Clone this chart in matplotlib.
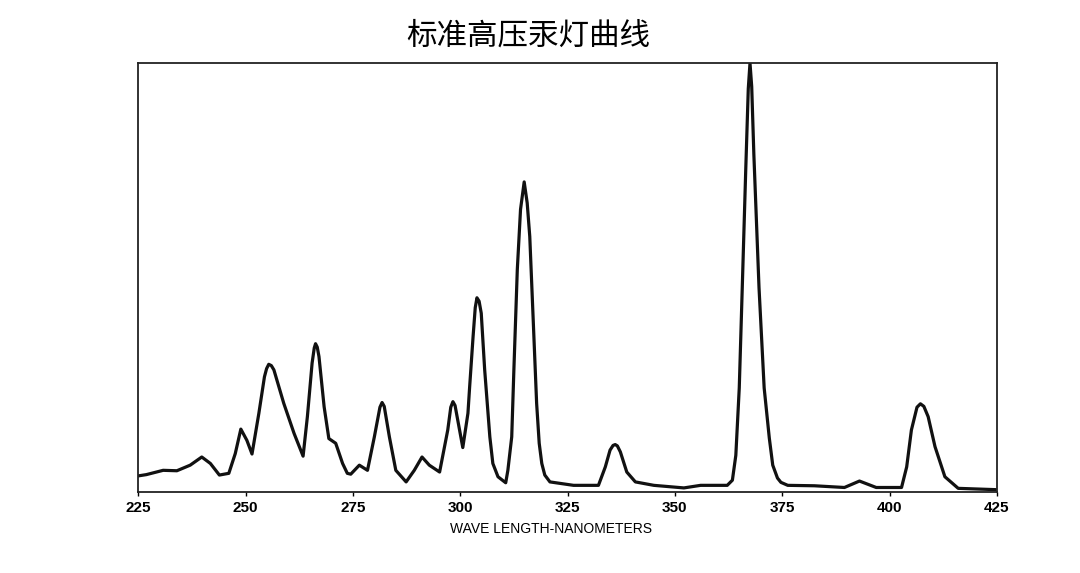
import numpy as np
import matplotlib
matplotlib.use("Agg")
import matplotlib.pyplot as plt

plt.rcParams['font.family'] = ['Noto Sans CJK SC', 'DejaVu Sans']

# values (wavelength nm, relative intensity %)
wavelength = [225.0, 226.9, 230.8, 234.0, 237.1, 239.8, 241.8, 243.9, 246.1, 247.6,
              248.9, 250.3, 251.5, 253.1, 254.4, 254.9, 255.4, 256.0, 256.6, 258.9,
              261.3, 263.4, 264.4, 265.5, 266.0, 266.3, 266.7, 267.1, 268.3, 269.4,
              271.0, 272.6, 273.7, 274.5, 276.5, 278.4, 280.0, 281.3, 281.8, 282.3,
              283.5, 285.0, 287.4, 289.3, 291.1, 292.8, 295.2, 297.1, 297.8, 298.3,
              298.8, 299.7, 300.6, 301.8, 302.2, 303.0, 303.5, 303.9, 304.4, 304.9,
              305.7, 306.9, 307.6, 308.8, 310.6, 311.1, 312.0, 312.5, 313.3, 314.05,
              314.9, 315.6, 316.2, 317.0, 317.8, 318.4, 319.0, 319.7, 320.9, 326.4,
              332.2, 333.8, 334.9, 335.6, 336.1, 336.6, 337.3, 338.8, 340.8, 345.1,
              352.1, 356.0, 362.2, 363.4, 364.2, 365.0, 365.7, 366.5, 367.1, 367.5,
              367.9, 368.4, 369.6, 370.8, 372.0, 372.8, 373.9, 374.7, 376.3, 382.5,
              389.5, 393.0, 396.9, 402.8, 404.0, 405.1, 406.4, 407.2, 408.0, 409.0,
              410.6, 412.9, 416.0, 424.6]
intensity = [3.8, 4.1, 5.1, 5.0, 6.3, 8.2, 6.7, 4.0, 4.4, 9.0,
             14.7, 12.1, 8.9, 18.4, 26.9, 28.8, 29.8, 29.5, 28.5, 20.7,
             13.7, 8.4, 17.6, 30.1, 33.6, 34.6, 33.8, 31.6, 19.9, 12.5,
             11.4, 6.7, 4.4, 4.2, 6.3, 5.1, 12.9, 19.8, 20.9, 20.0,
             12.9, 5.1, 2.4, 5.1, 8.2, 6.3, 4.7, 14.5, 19.8, 21.1,
             20.2, 15.3, 10.4, 18.4, 24.6, 36.3, 43.0, 45.3, 44.5, 41.7,
             28.5, 12.9, 6.7, 3.6, 2.2, 5.1, 12.9, 28.5, 51.9, 65.9,
             72.3, 67.4, 59.6, 40.2, 20.7, 11.4, 6.7, 4.0, 2.4, 1.6,
             1.6, 5.9, 9.8, 10.9, 11.1, 10.8, 9.4, 4.7, 2.4, 1.6,
             1.0, 1.6, 1.6, 2.8, 8.6, 24.3, 47.7, 74.8, 94.0, 100.0,
             94.5, 78.7, 47.7, 24.3, 12.6, 6.3, 3.3, 2.3, 1.6, 1.5,
             1.1, 2.6, 1.1, 1.1, 5.9, 14.5, 19.8, 20.6, 20.0, 17.6,
             10.6, 3.6, 0.9, 0.6]
xticks = [225, 250, 275, 300, 325, 350, 375, 400, 425]

fig = plt.figure(figsize=(10.8, 5.73), dpi=100)
ax = fig.add_axes([0.128, 0.141, 0.795, 0.749])
ax.plot(wavelength, intensity, color='#111111', lw=2.3, solid_joinstyle='round')

ax.set_xlim(225, 425)
ax.set_ylim(0, 100)
ax.set_xticks(xticks)
ax.set_xticklabels([str(t) for t in xticks], fontfamily='Liberation Sans',
                   fontweight='bold', fontsize=11)
ax.set_yticks([])
ax.tick_params(axis='x', direction='out', length=3, width=1, pad=3)
for s in ax.spines.values():
    s.set_linewidth(1.3)
    s.set_color('#222222')

ax.set_xlabel('WAVE LENGTH-NANOMETERS', fontfamily='Liberation Sans', fontsize=10)
ax.xaxis.set_label_coords(0.481, -0.07)

fig.text(0.489, 0.937, '标准高压汞灯曲线', ha='center', va='center', fontsize=22)

fig.savefig('out.png', dpi=100)
